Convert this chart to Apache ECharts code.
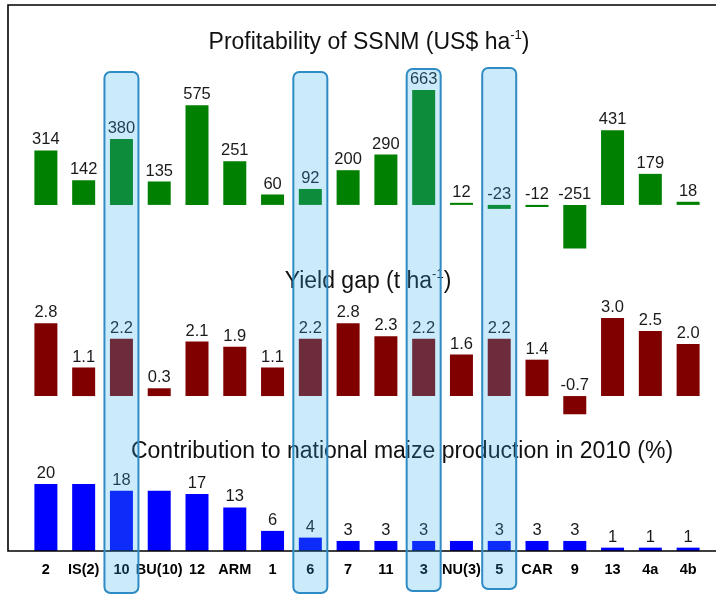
<!DOCTYPE html>
<html><head><meta charset="utf-8">
<script src="https://cdn.jsdelivr.net/npm/echarts@6/dist/echarts.min.js"></script>
<style>html,body{margin:0;padding:0;background:#fff}#c{width:716px;height:596px}</style>
</head><body><div id="c"></div>
<script>
const categories = ['2','IS(2)','10','BU(10)','12','ARM','1','6','7','11','3','NU(3)','5','CAR','9','13','4a','4b'];
const profitability = [314,142,380,135,575,251,60,92,200,290,663,12,-23,-12,-251,431,179,18];
const yieldGap = [2.8,1.1,2.2,0.3,2.1,1.9,1.1,2.2,2.8,2.3,2.2,1.6,2.2,1.4,-0.7,3.0,2.5,2.0];
const contribution = [20,20,18,18,17,13,6,4,3,3,3,3,3,3,3,1,1,1];
const contributionLabelShown = [true,false,true,false,true,true,true,true,true,true,true,false,true,true,true,true,true,true];
const highlighted = ['10','6','3','5'];

const FONT = '"Liberation Sans", Arial, sans-serif';
const chart = echarts.init(document.getElementById('c'), null, {renderer:'canvas'});

const gridBase = {left:27, width:680};
function xAx(i, show){
  return {type:'category', gridIndex:i, data:categories, boundaryGap:true,
    axisLine:{show:false}, axisTick:{show:false}, splitLine:{show:false},
    axisLabel:{show:show, interval:0, margin:11, color:'#000', fontWeight:'bold', fontSize:14.5, fontFamily:FONT}};
}
function yAx(i, min, max){
  return {type:'value', gridIndex:i, min:min, max:max, show:false, splitLine:{show:false}};
}
const labelBase = {show:true, position:'top', distance:2, color:'#1a1a1a', fontSize:16.5, fontFamily:FONT};

function titleText(main, sup, tail){
  return sup ? '{a|'+main+'}{b|'+sup+'}{a|'+tail+'}' : '{a|'+main+'}';
}
const rich = {a:{fontSize:23, fontWeight:'normal', fontFamily:FONT, color:'#111', lineHeight:28},
              b:{fontSize:13, fontWeight:'normal', fontFamily:FONT, color:'#111', lineHeight:28, verticalAlign:'top'}};
const tStyle = {fontWeight:'normal', rich:rich};

chart.setOption({
  animation:false,
  title:[
    {text:titleText('Profitability of SSNM (US$ ha','-1',')'), left:369, top:29, padding:0, textAlign:'center', textStyle:tStyle},
    {text:titleText('Yield gap (t ha','-1',')'), left:368, top:268, padding:0, textAlign:'center', textStyle:tStyle},
    {text:titleText('Contribution to national maize production in 2010 (%)'), left:402, top:438, padding:0, textAlign:'center', textStyle:tStyle}
  ],
  grid:[
    Object.assign({top:80, height:170}, gridBase),
    Object.assign({top:300, height:120}, gridBase),
    Object.assign({top:470, height:81}, gridBase)
  ],
  xAxis:[xAx(0,false), xAx(1,false), xAx(2,true)],
  yAxis:[yAx(0,-260,720), yAx(1,-0.92,3.695), yAx(2,0,24.18)],
  series:[
    {type:'bar', xAxisIndex:0, yAxisIndex:0, data:profitability, barWidth:23,
     itemStyle:{color:'#008000'}, label:Object.assign({}, labelBase)},
    {type:'bar', xAxisIndex:1, yAxisIndex:1, data:yieldGap, barWidth:23,
     itemStyle:{color:'#800000'}, label:Object.assign({formatter:p=>p.value.toFixed(1)}, labelBase)},
    {type:'bar', xAxisIndex:2, yAxisIndex:2, data:contribution, barWidth:23,
     itemStyle:{color:'#0000ff'}, label:Object.assign({formatter:p=>contributionLabelShown[p.dataIndex]?String(p.value):''}, labelBase)}
  ]
});

const hlBox = {'10':[72,593], '6':[72,593], '3':[69,591], '5':[68,589]};
const graphics = [{type:'rect', z:50, silent:true, shape:{x:8, y:5, width:730, height:546},
  style:{fill:null, stroke:'#000', lineWidth:1.6}}];
highlighted.forEach(cat=>{
  const cx = chart.convertToPixel({xAxisIndex:2}, cat);
  const [t,b] = hlBox[cat];
  graphics.push({type:'rect', z:100, silent:true,
    shape:{x:cx-17, y:t, width:34, height:b-t, r:6},
    style:{fill:'rgba(52,176,236,0.25)', stroke:'#2e8bc4', lineWidth:2}});
});
chart.setOption({graphic:graphics});
</script></body></html>
